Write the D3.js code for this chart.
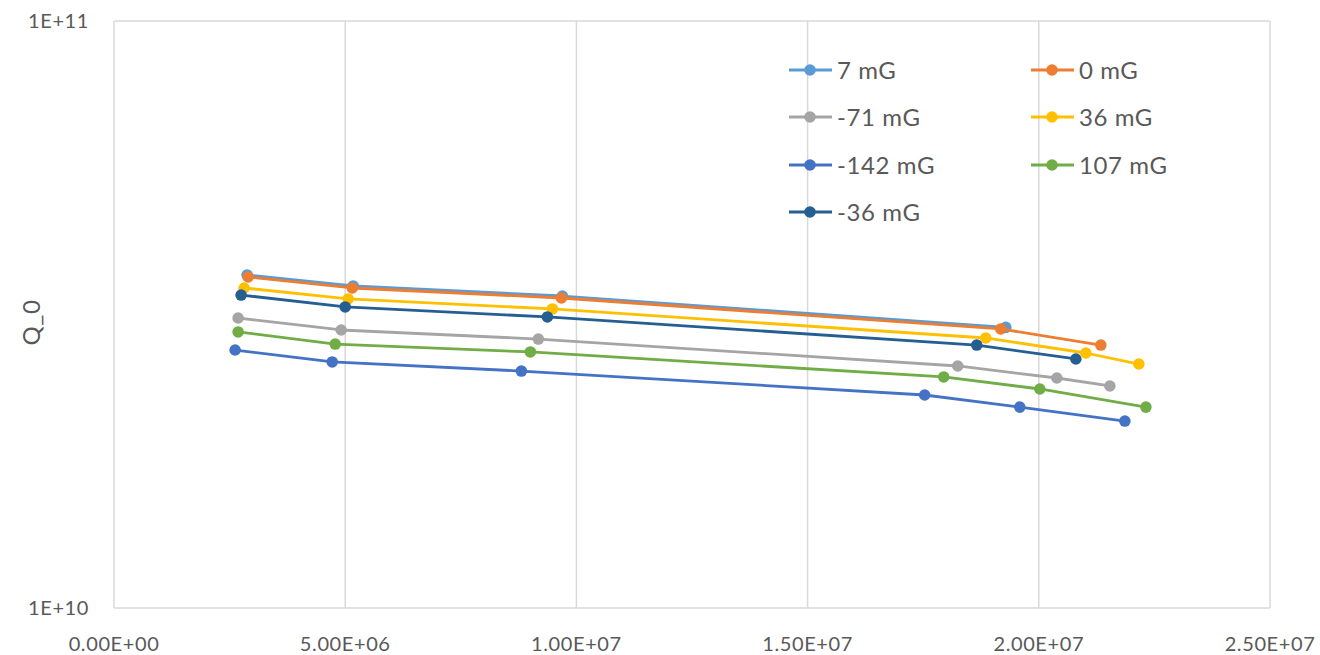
<!DOCTYPE html>
<html>
<head>
<meta charset="utf-8">
<script src="https://cdn.jsdelivr.net/npm/d3@7"></script>
<style>
  html, body { margin: 0; padding: 0; background: #fff; }
  svg { display: block; font-family: Lato, "Open Sans", sans-serif; }
</style>
</head>
<body>
<svg id="chart" width="1320" height="655"></svg>
<script>
const seriesNames = ["7 mG", "0 mG", "-71 mG", "36 mG", "-142 mG", "107 mG", "-36 mG"];
const seriesColors = ["#5B9BD5", "#ED7D31", "#A5A5A5", "#FFC000", "#4472C4", "#70AD47", "#255E91"];

const x7 = [2.879e6, 5.173e6, 9.697e6, 1.9286e7];
const y7 = [3.693e10, 3.537e10, 3.400e10, 3.006e10];
const x0 = [2.900e6, 5.152e6, 9.675e6, 1.9177e7, 2.1342e7];
const y0 = [3.664e10, 3.509e10, 3.374e10, 2.988e10, 2.805e10];
const xm71 = [2.684e6, 4.913e6, 9.177e6, 1.8247e7, 2.0390e7, 2.1537e7];
const ym71 = [3.119e10, 2.976e10, 2.872e10, 2.584e10, 2.465e10, 2.389e10];
const x36 = [2.814e6, 5.065e6, 9.481e6, 1.8853e7, 2.1017e7, 2.2164e7];
const y36 = [3.509e10, 3.361e10, 3.232e10, 2.884e10, 2.719e10, 2.604e10];
const xm142 = [2.619e6, 4.719e6, 8.810e6, 1.7532e7, 1.9589e7, 2.1861e7];
const ym142 = [2.751e10, 2.625e10, 2.533e10, 2.306e10, 2.199e10, 2.082e10];
const x107 = [2.684e6, 4.784e6, 9.004e6, 1.7944e7, 2.0022e7, 2.2316e7];
const y107 = [2.953e10, 2.816e10, 2.730e10, 2.475e10, 2.361e10, 2.199e10];
const xm36 = [2.749e6, 5.000e6, 9.372e6, 1.8658e7, 2.0801e7];
const ym36 = [3.413e10, 3.257e10, 3.132e10, 2.805e10, 2.656e10];

const xTicks = [0, 5e6, 1e7, 1.5e7, 2e7, 2.5e7];
const xTickLabels = ["0.00E+00", "5.00E+06", "1.00E+07", "1.50E+07", "2.00E+07", "2.50E+07"];
const yTicks = [1e10, 1e11];
const yTickLabels = ["1E+10", "1E+11"];
const yAxisTitle = "Q_0";

const seriesX = [x7, x0, xm71, x36, xm142, x107, xm36];
const seriesY = [y7, y0, ym71, y36, ym142, y107, ym36];
const series = seriesNames.map((name, i) => ({
  name, color: seriesColors[i],
  points: seriesX[i].map((xv, j) => ({ x: xv, y: seriesY[i][j] }))
}));

const svg = d3.select("#chart");
const pL = 114, pR = 1270, pT = 21, pB = 608;
const x = d3.scaleLinear().domain([0, 2.5e7]).range([pL, pR]);
const y = d3.scaleLog().domain([1e10, 1e11]).range([pB, pT]);

const textColor = "#595959";
const gridColor = "#d9d9d9";

// vertical gridlines
svg.append("g").selectAll("line").data(xTicks).join("line")
  .attr("x1", d => x(d)).attr("x2", d => x(d))
  .attr("y1", pT).attr("y2", pB)
  .attr("stroke", gridColor).attr("stroke-width", 1.5);
// horizontal gridlines
svg.append("g").selectAll("line").data(yTicks).join("line")
  .attr("x1", pL).attr("x2", pR)
  .attr("y1", d => y(d)).attr("y2", d => y(d))
  .attr("stroke", gridColor).attr("stroke-width", 1.5);

// x tick labels
svg.append("g").selectAll("text").data(xTicks).join("text")
  .attr("x", d => x(d)).attr("y", 651)
  .attr("text-anchor", "middle")
  .attr("font-size", 20).attr("letter-spacing", 0.6).attr("fill", textColor)
  .text((d, i) => xTickLabels[i]);
// y tick labels
svg.append("g").selectAll("text").data(yTicks).join("text")
  .attr("x", 89).attr("y", d => y(d) + 7)
  .attr("text-anchor", "end")
  .attr("font-size", 20).attr("letter-spacing", 0.6).attr("fill", textColor)
  .text((d, i) => yTickLabels[i]);

// y axis title
svg.append("text")
  .attr("transform", `translate(40,${(pT + pB) / 2 + 8}) rotate(-90)`)
  .attr("text-anchor", "middle")
  .attr("font-size", 24).attr("letter-spacing", 0.6).attr("fill", textColor)
  .text(yAxisTitle);

// series
const line = d3.line().x(d => x(d.x)).y(d => y(d.y));
const gS = svg.append("g");
series.forEach(s => {
  const g = gS.append("g");
  g.append("path").datum(s.points)
    .attr("d", line).attr("fill", "none")
    .attr("stroke", s.color).attr("stroke-width", 2.8)
    .attr("stroke-linejoin", "round");
  g.selectAll("circle").data(s.points).join("circle")
    .attr("cx", d => x(d.x)).attr("cy", d => y(d.y))
    .attr("r", 5.8).attr("fill", s.color);
});

// legend
const legCols = [789, 1031];
const legRows = [70, 117, 165, 212];
const leg = svg.append("g");
series.forEach((s, i) => {
  const cx = legCols[i % 2], cy = legRows[Math.floor(i / 2)];
  const g = leg.append("g");
  g.append("line").attr("x1", cx).attr("x2", cx + 43)
    .attr("y1", cy).attr("y2", cy)
    .attr("stroke", s.color).attr("stroke-width", 2.8);
  g.append("circle").attr("cx", cx + 21).attr("cy", cy).attr("r", 5.8).attr("fill", s.color);
  g.append("text").attr("x", cx + 48).attr("y", cy + 9)
    .attr("font-size", 24).attr("letter-spacing", 0.6).attr("fill", textColor)
    .text(s.name);
});
</script>
</body>
</html>
